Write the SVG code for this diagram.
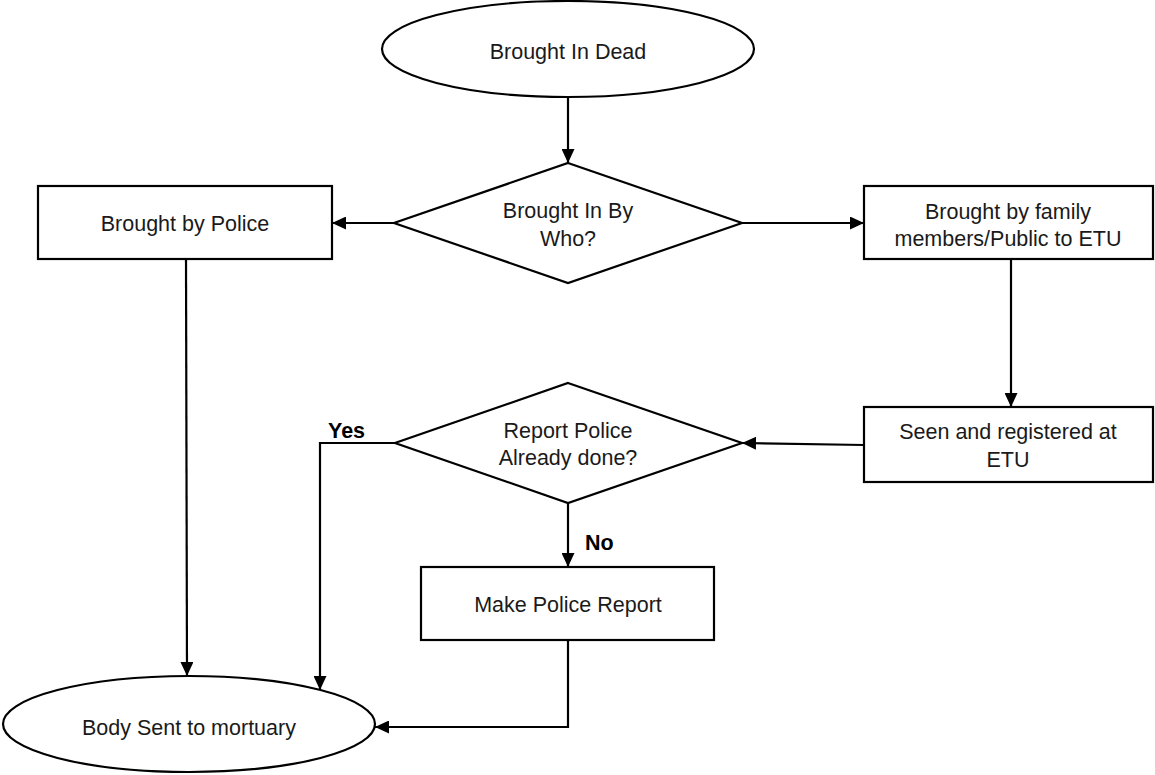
<svg xmlns="http://www.w3.org/2000/svg" width="1155" height="775" viewBox="0 0 1155 775">
<defs>
<style>
.shape{fill:#fff;stroke:#000;stroke-width:2.2}
.t{font-family:"Liberation Sans",Arial,sans-serif;font-size:21.5px;fill:#1a1a1a;text-anchor:middle}
.b{font-family:"Liberation Sans",Arial,sans-serif;font-size:21.5px;font-weight:bold;fill:#000}
.c{fill:none;stroke:#000;stroke-width:2.2}
</style>
<marker id="ah" markerWidth="14" markerHeight="13" refX="14" refY="6.5" orient="auto" markerUnits="userSpaceOnUse">
<path d="M0,0 L14,6.5 L0,13 z" fill="#000"/>
</marker>
</defs>
<rect width="1155" height="775" fill="#fff"/>
<g id="connectors">
<line class="c" x1="568" y1="97" x2="568" y2="163" marker-end="url(#ah)"/>
<line class="c" x1="394" y1="223" x2="332" y2="223" marker-end="url(#ah)"/>
<line class="c" x1="742" y1="223" x2="864" y2="223" marker-end="url(#ah)"/>
<line class="c" x1="1011" y1="259" x2="1011" y2="407" marker-end="url(#ah)"/>
<line class="c" x1="864" y1="445" x2="742" y2="443" marker-end="url(#ah)"/>
<line class="c" x1="186" y1="259" x2="187" y2="676" marker-end="url(#ah)"/>
<polyline class="c" points="395,443 320,443 320,690" marker-end="url(#ah)"/>
<line class="c" x1="568" y1="503" x2="568" y2="567" marker-end="url(#ah)"/>
<polyline class="c" points="568,640 568,727 375,727" marker-end="url(#ah)"/>
<text class="b" x="328" y="438">Yes</text>
<text class="b" x="585" y="550">No</text>
</g>
<g id="start">
<ellipse class="shape" cx="568" cy="49" rx="186" ry="48"/>
<text class="t" x="568" y="59">Brought In Dead</text>
</g>
<g id="decision1">
<polygon class="shape" points="568,163 742,223 568,283 394,223"/>
<text class="t" x="568" y="218">Brought In By</text>
<text class="t" x="568" y="246">Who?</text>
</g>
<g id="police">
<rect class="shape" x="38" y="186" width="294" height="73"/>
<text class="t" x="185" y="231">Brought by Police</text>
</g>
<g id="family">
<rect class="shape" x="864" y="186" width="289" height="73"/>
<text class="t" x="1008" y="219">Brought by family</text>
<text class="t" x="1008" y="246">members/Public to ETU</text>
</g>
<g id="registered">
<rect class="shape" x="864" y="407" width="289" height="75"/>
<text class="t" x="1008" y="439">Seen and registered at</text>
<text class="t" x="1008" y="467">ETU</text>
</g>
<g id="decision2">
<polygon class="shape" points="568,383 742,443 568,503 395,443"/>
<text class="t" x="568" y="438">Report Police</text>
<text class="t" x="568" y="465">Already done?</text>
</g>
<g id="report">
<rect class="shape" x="421" y="567" width="293" height="73"/>
<text class="t" x="568" y="612">Make Police Report</text>
</g>
<g id="mortuary">
<ellipse class="shape" cx="189" cy="724" rx="186" ry="48"/>
<text class="t" x="189" y="735">Body Sent to mortuary</text>
</g>
</svg>
